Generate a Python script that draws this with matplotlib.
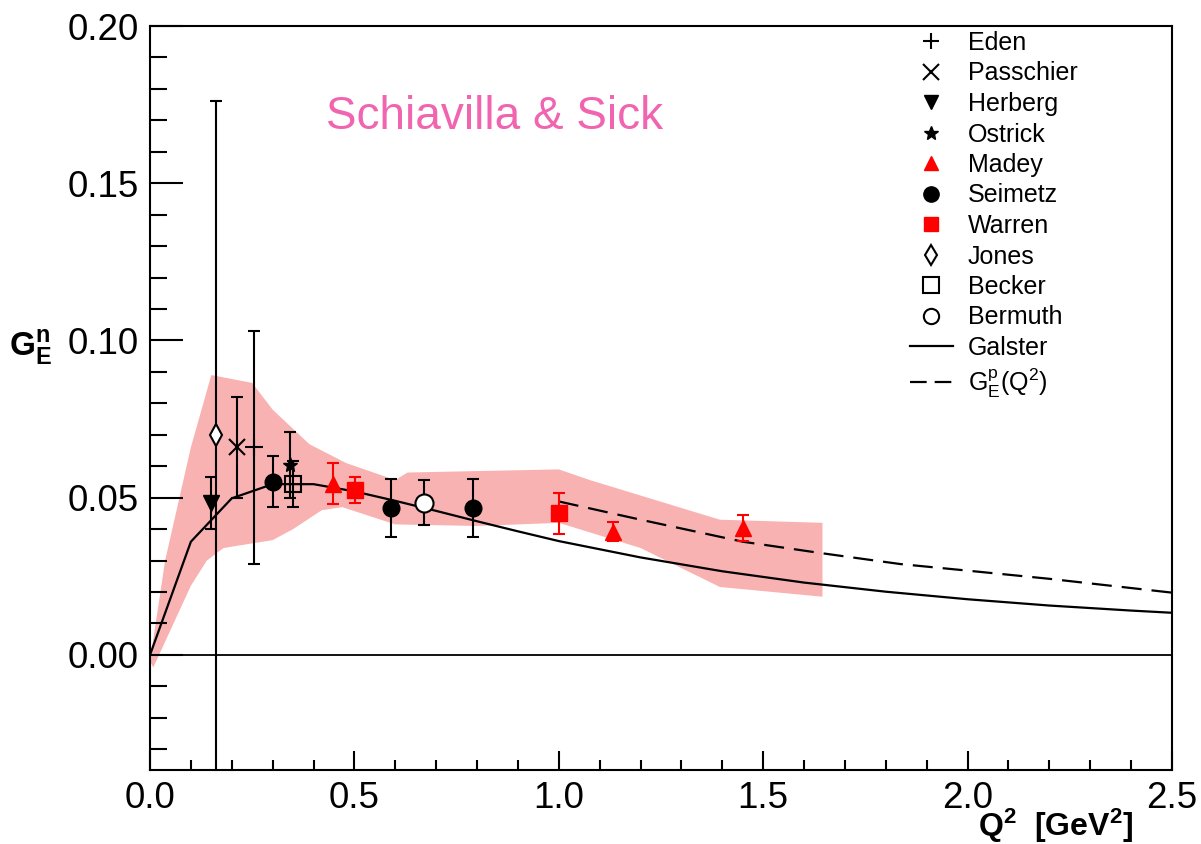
import matplotlib
matplotlib.use("Agg")
import matplotlib.pyplot as plt
from matplotlib.lines import Line2D
from matplotlib.ticker import MultipleLocator, FormatStrFormatter

plt.rcParams['font.family'] = ['Liberation Sans', 'DejaVu Sans']
plt.rcParams['mathtext.fontset'] = 'custom'
plt.rcParams['mathtext.rm'] = 'Liberation Sans'
plt.rcParams['mathtext.it'] = 'Liberation Sans'
plt.rcParams['mathtext.bf'] = 'Liberation Sans:bold'

# ---------------- data ----------------
eden_x, eden_y, eden_e = [0.255], [0.066], [0.037]
passchier_x, passchier_y, passchier_e = [0.212], [0.066], [0.016]
herberg_x, herberg_y, herberg_e = [0.149], [0.0484], [0.0083]
ostrick_x, ostrick_y, ostrick_e = [0.342], [0.0604], [0.0105]
madey_x = [0.447, 1.133, 1.451]
madey_y = [0.0544, 0.0392, 0.0403]
madey_e = [0.0065, 0.0030, 0.0042]
seimetz_x = [0.302, 0.590, 0.791]
seimetz_y = [0.0551, 0.0466, 0.0466]
seimetz_e = [0.0080, 0.0092, 0.0092]
warren_x = [0.501, 1.000]
warren_y = [0.0525, 0.0450]
warren_e = [0.0042, 0.0064]
jones_x, jones_y = [0.161], [0.070]
jones_e_low, jones_e_high = [0.110], [0.106]
becker_x, becker_y, becker_e = [0.351], [0.0544], [0.0074]
bermuth_x, bermuth_y, bermuth_e = [0.671], [0.0484], [0.0071]

galster_x = [0.0, 0.1, 0.2, 0.3, 0.4, 0.5, 0.6, 0.7, 0.8, 0.9, 1.0, 1.2, 1.4,
             1.6, 1.8, 2.0, 2.2, 2.4, 2.5]
galster_y = [0.0, 0.036, 0.0498, 0.0543, 0.0543, 0.0520, 0.0490, 0.0458, 0.0425,
             0.0393, 0.0362, 0.0310, 0.0266, 0.0230, 0.0201, 0.0177, 0.0157,
             0.0141, 0.0134]

gep_x = [1.0, 1.2, 1.45, 1.64, 1.835, 2.0, 2.2, 2.5]
gep_y = [0.0488, 0.0430, 0.0360, 0.0324, 0.0289, 0.0268, 0.0242, 0.0198]

band_upper_x = [0.0, 0.037, 0.1, 0.15, 0.25, 0.30, 0.39, 0.48, 0.60, 0.63,
                1.0, 1.076, 1.394, 1.645]
band_upper_y = [-0.002, 0.030, 0.066, 0.089, 0.0865, 0.078, 0.067, 0.061,
                0.0556, 0.058, 0.059, 0.0556, 0.043, 0.042]
band_lower_x = [0.008, 0.1, 0.139, 0.18, 0.30, 0.35, 0.42, 0.47, 0.60, 0.80,
                1.0, 1.2, 1.394, 1.645]
band_lower_y = [-0.004, 0.022, 0.030, 0.034, 0.0365, 0.040, 0.046, 0.047,
                0.0415, 0.041, 0.042, 0.034, 0.0216, 0.0185]

# ---------------- figure ----------------
fig = plt.figure(figsize=(12.01, 8.44), dpi=100)
ax = fig.add_axes([150/1201, 74/844, 1022/1201, 744/844])

# band
poly_x = band_upper_x + band_lower_x[::-1]
poly_y = band_upper_y + band_lower_y[::-1]
ax.fill(poly_x, poly_y, color='#f9b2b2', lw=0, zorder=1)

ax.axhline(0.0, color='black', lw=1.3, zorder=2)

ax.plot(galster_x, galster_y, color='black', lw=1.6, zorder=3)
ax.plot(gep_x, gep_y, color='black', lw=1.6, dashes=(9, 4.5), zorder=3)

ekw = dict(elinewidth=1.5, capsize=4, capthick=1.5, linestyle='none', zorder=5)
ax.errorbar(eden_x, eden_y, yerr=eden_e, fmt='+', color='black', ms=13, mew=1.5, **ekw)
ax.errorbar(passchier_x, passchier_y, yerr=passchier_e, fmt='x', color='black', ms=12, mew=1.5, **ekw)
ax.errorbar(herberg_x, herberg_y, yerr=herberg_e, fmt='v', color='black', ms=11, **ekw)
ax.errorbar(ostrick_x, ostrick_y, yerr=ostrick_e, fmt='*', color='black', ms=11, **ekw)
ax.errorbar(becker_x, becker_y, yerr=becker_e, fmt='s', color='black', ms=11,
            mfc='none', mew=1.5, **ekw)
ax.errorbar(madey_x, madey_y, yerr=madey_e, fmt='^', color='red', ms=11, **ekw)
ax.errorbar(seimetz_x, seimetz_y, yerr=seimetz_e, fmt='o', color='black', ms=12, **ekw)
ax.errorbar(warren_x, warren_y, yerr=warren_e, fmt='s', color='red', ms=11, **ekw)
ax.errorbar(jones_x, jones_y, yerr=[jones_e_low, jones_e_high], fmt='d', color='black',
            ms=11, mfc='white', mew=1.5, **ekw)
ax.errorbar(bermuth_x, bermuth_y, yerr=bermuth_e, fmt='o', color='black', ms=13,
            mfc='white', mew=1.5, **ekw)

ax.text(0.844, 0.171, 'Schiavilla & Sick', color='#f064b0', fontsize=33,
        ha='center', va='center')

ax.set_xlim(0, 2.5)
ax.set_ylim(-0.0366, 0.20)
ax.xaxis.set_major_locator(MultipleLocator(0.5))
ax.xaxis.set_minor_locator(MultipleLocator(0.1))
ax.yaxis.set_major_locator(MultipleLocator(0.05))
ax.yaxis.set_minor_locator(MultipleLocator(0.01))
ax.tick_params(axis='y', which='major', direction='in', length=24, width=1.5,
               labelsize=26.5, pad=8, right=False)
ax.tick_params(axis='y', which='minor', direction='in', length=12, width=1.5, right=False)
ax.tick_params(axis='x', which='major', direction='in', length=14, width=1.5,
               labelsize=26.5, pad=8, top=False)
ax.tick_params(axis='x', which='minor', direction='in', length=7, width=1.5, top=False)
ax.xaxis.set_major_formatter(FormatStrFormatter('%.1f'))
ax.yaxis.set_major_formatter(FormatStrFormatter('%.2f'))
for s in ax.spines.values():
    s.set_linewidth(1.5)

fig.text(1133/1201, 1 - 826/844, r'$\mathbf{Q^2}$  [GeV$^\mathbf{2}$]', fontsize=23,
         fontweight='bold', ha='right', va='center')
fig.text(31/1201, 1 - 348/844, r'$\mathbf{G_E^n}$', fontsize=24, ha='center', va='center')

# legend
handles = [
    Line2D([], [], ls='none', marker='+', color='black', ms=12, mew=1.5),
    Line2D([], [], ls='none', marker='x', color='black', ms=11, mew=1.5),
    Line2D([], [], ls='none', marker='v', color='black', ms=10),
    Line2D([], [], ls='none', marker='*', color='black', ms=10),
    Line2D([], [], ls='none', marker='^', color='red', ms=10),
    Line2D([], [], ls='none', marker='o', color='black', ms=11),
    Line2D([], [], ls='none', marker='s', color='red', ms=10),
    Line2D([], [], ls='none', marker='d', color='black', mfc='white', ms=10, mew=1.5),
    Line2D([], [], ls='none', marker='s', color='black', mfc='white', ms=11, mew=1.5),
    Line2D([], [], ls='none', marker='o', color='black', mfc='white', ms=11, mew=1.5),
    Line2D([], [], color='black', lw=1.6),
    Line2D([], [], color='black', lw=1.6, dashes=(7.5, 3.6)),
]
labels = ['Eden', 'Passchier', 'Herberg', 'Ostrick', 'Madey', 'Seimetz', 'Warren',
          'Jones', 'Becker', 'Bermuth', 'Galster', r'$\mathrm{G_E^p(Q^2)}$']
leg = ax.legend(handles, labels, loc='upper left',
                bbox_to_anchor=((910 - 150)/1022, (770 - 31)/744),
                frameon=False, fontsize=18, handlelength=1.7, handletextpad=0.6,
                labelspacing=0.26, borderpad=0, borderaxespad=0)

fig.savefig('out.png', dpi=100)
